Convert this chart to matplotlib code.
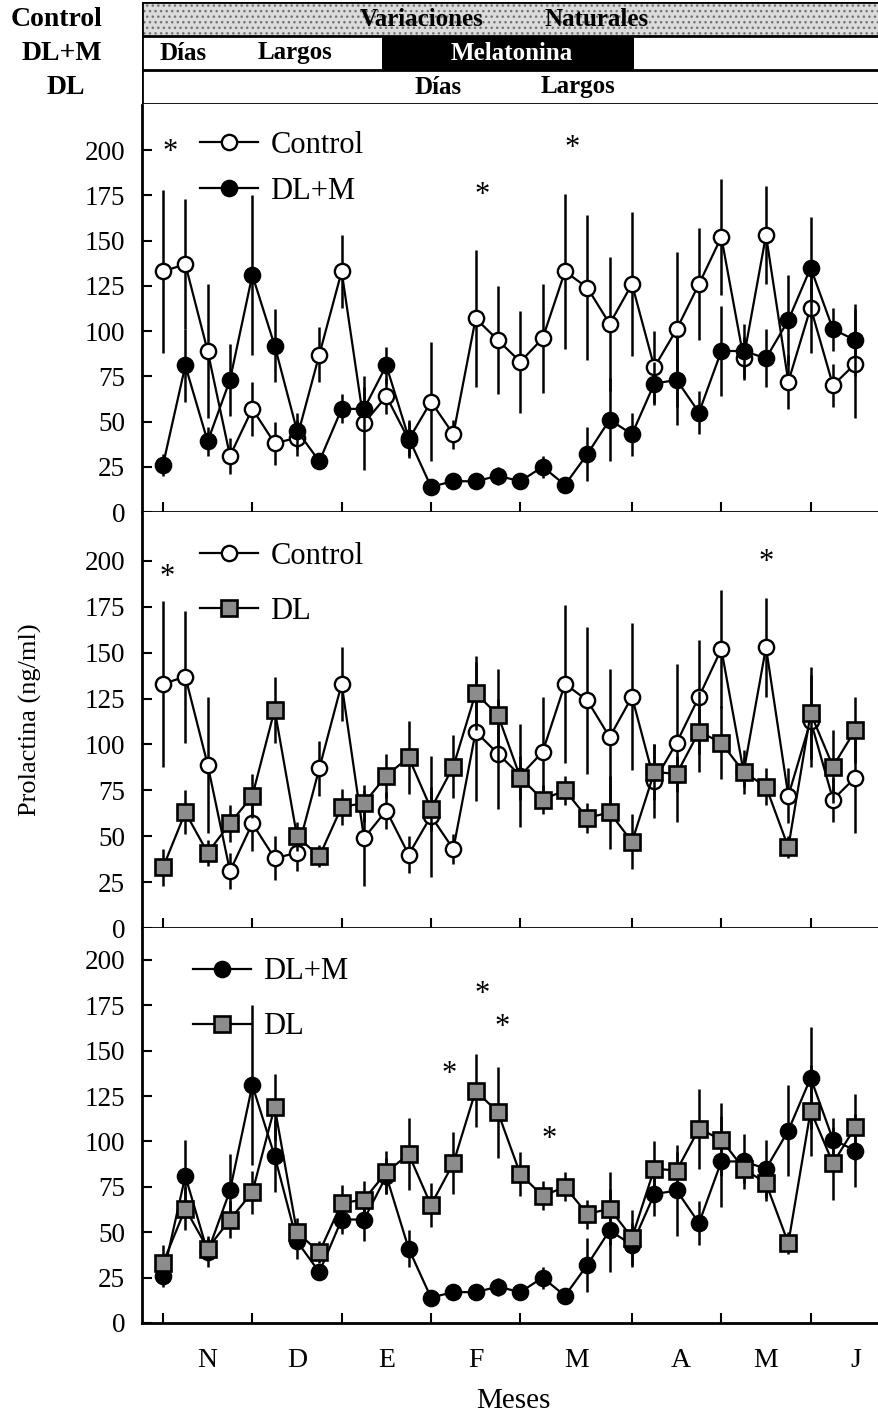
import numpy as np
import matplotlib.pyplot as plt

plt.rcParams['font.family'] = ['Liberation Serif', 'DejaVu Serif']
plt.rcParams['hatch.linewidth'] = 1.0

# muestreos (cada ~semana) de noviembre a junio
x = np.arange(32)

control = [133, 137, 89, 31, 57, 38, 41, 87, 133, 49, 64, 40, 61, 43, 107, 95,
           83, 96, 133, 124, 104, 126, 80, 101, 126, 152, 85, 153, 72, 113, 70, 82]
control_err = [45, 36, 37, 10, 15, 12, 10, 15, 20, 26, 10, 10, 33, 8, 38, 30,
               28, 30, 43, 40, 37, 40, 20, 43, 31, 32, 12, 27, 15, 25, 12, 30]

dlm = [26, 81, 39, 73, 131, 92, 45, 28, 57, 57, 81, 41, 14, 17, 17, 20,
       17, 25, 15, 32, 51, 43, 71, 73, 55, 89, 89, 85, 106, 135, 101, 95]
dlm_err = [6, 20, 8, 20, 44, 20, 10, 4, 8, 12, 10, 10, 4, 4, 4, 5,
           4, 6, 4, 15, 23, 12, 12, 25, 12, 25, 15, 16, 25, 28, 12, 20]

dl = [33, 63, 41, 57, 72, 119, 50, 39, 66, 68, 83, 93, 65, 88, 128, 116,
      82, 70, 75, 60, 63, 47, 85, 84, 107, 101, 85, 77, 44, 117, 88, 108]
dl_err = [10, 12, 7, 10, 12, 18, 8, 6, 10, 10, 12, 20, 12, 17, 20, 25,
          12, 8, 8, 8, 20, 15, 15, 10, 22, 20, 8, 10, 6, 25, 20, 18]

month_ticks = [0, 4, 8, 12, 16, 21, 25, 29]
month_pos = [2, 6, 10, 14, 18.5, 23.2, 27, 31]
month_labels = ['N', 'D', 'E', 'F', 'M', 'A', 'M', 'J']

# asteriscos (x, y) por panel
stars = [
    [(0.3, 199), (14.3, 175), (18.3, 201)],
    [(0.2, 191), (27.0, 199)],
    [(12.8, 137), (14.3, 181), (15.2, 163), (17.3, 101)],
]

series = {
    'Control': (control, control_err),
    'DL+M': (dlm, dlm_err),
    'DL': (dl, dl_err),
}
styles = {
    'Control': dict(marker='o', mfc='white', mec='black', ms=11, mew=1.7),
    'DL+M': dict(marker='o', mfc='black', mec='black', ms=11, mew=1.7),
    'DL': dict(marker='s', mfc='0.55', mec='black', ms=11, mew=1.9),
}

W, H = 879, 1418
fig = plt.figure(figsize=(W / 100, H / 100), dpi=100)


def px_axes(left, top, right, bottom):
    return fig.add_axes([left / W, 1 - bottom / H, (right - left) / W, (bottom - top) / H])


XLIM = (-0.94, 32.06)

# panel: (top, bottom, ymax, series, legend anchor, labelspacing)
panels = [
    (105, 512, 225, ['Control', 'DL+M'], (0.079, 0.936), 0.55),
    (512, 928, 226.7, ['Control', 'DL'], (0.079, 0.928), 0.85),
    (928, 1323, 217.6, ['DL+M', 'DL'], (0.069, 0.926), 0.85),
]

axes = []
for i, (top, bottom, ymax, names, anchor, lsp) in enumerate(panels):
    ax = px_axes(142, top, 879, bottom)
    for k, name in enumerate(names):
        y, err = series[name]
        y = np.array(y)
        err = np.array(err)
        ax.vlines(x, y - err, y + err, color='black', lw=1.8, zorder=2 + k)
        ax.plot(x, y, color='black', lw=1.6, label=name, zorder=3 + k, **styles[name])
    for sx, sy in stars[i]:
        ax.text(sx, sy, '*', fontsize=22, ha='center', va='center')
    ax.legend(loc='upper left', bbox_to_anchor=anchor, frameon=False, fontsize=22,
              borderpad=0, borderaxespad=0, handlelength=1.9, handletextpad=0.4,
              labelspacing=lsp)
    ax.set_xlim(*XLIM)
    ax.set_ylim(0, ymax)
    ax.set_yticks(np.arange(0, 201, 25))
    ax.set_xticks(month_ticks)
    ax.set_xticklabels([])
    ax.tick_params(axis='both', direction='in', length=7, width=1.5, labelsize=19.5)
    ax.tick_params(axis='y', pad=12)
    for s in ['top', 'right']:
        ax.spines[s].set_visible(False)
    for s in ['left', 'bottom']:
        ax.spines[s].set_linewidth(2)
    axes.append(ax)

axb = axes[-1]
axb.set_xticks(month_pos, minor=True)
axb.set_xticklabels(month_labels, minor=True)
axb.tick_params(axis='x', which='minor', length=0, pad=18, labelsize=20)

fig.text(30 / W, 1 - 720 / H, 'Prolactina (ng/ml)', rotation=90, fontsize=19,
         ha='center', va='center')
fig.text(513 / W, 1 - 1401 / H, 'Meses', fontsize=21, ha='center', va='center')

# cabecera de tratamientos
hd = px_axes(142, 2, 879, 104)
hd.set_xlim(*XLIM)
hd.set_ylim(0, 3)
hd.axis('off')
hd.barh(2.5, XLIM[1] - XLIM[0], left=XLIM[0], height=1, facecolor='0.86',
        hatch='...', edgecolor='0.45', lw=0)
hd.barh(1.5, 11.3, left=9.8, height=1, color='black')
for yy in [0, 1, 2, 3]:
    hd.axhline(yy, color='black', lw=2)
hd.axvline(XLIM[0], color='black', lw=2)

hfont = dict(fontsize=18, fontweight='bold', ha='center', va='center')
hd.text(11.6, 2.5, 'Variaciones', **hfont)
hd.text(19.4, 2.5, 'Naturales', **hfont)
hd.text(0.9, 1.5, 'Días', **hfont)
hd.text(5.9, 1.5, 'Largos', **hfont)
hd.text(15.6, 1.5, 'Melatonina', color='white', **hfont)
hd.text(12.3, 0.5, 'Días', **hfont)
hd.text(18.6, 0.5, 'Largos', **hfont)

lfont = dict(fontsize=20, fontweight='bold', ha='center', va='center')
fig.text(57 / W, 1 - 20 / H, 'Control', **lfont)
fig.text(62 / W, 1 - 54 / H, 'DL+M', **lfont)
fig.text(66 / W, 1 - 88 / H, 'DL', **lfont)

fig.savefig('out.png', dpi=100)
